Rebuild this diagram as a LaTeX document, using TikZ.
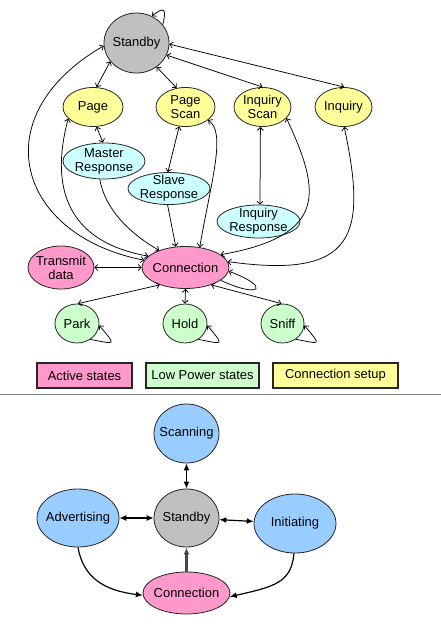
\documentclass[tikz,border=0pt]{standalone}
\usepackage{fontspec}
\setmainfont{Liberation Sans}
\usetikzlibrary{shapes.geometric,arrows.meta}
\definecolor{standbygray}{HTML}{C0C0C0}
\definecolor{setupyellow}{HTML}{FFFF99}
\definecolor{respcyan}{HTML}{CCFFFF}
\definecolor{activepink}{HTML}{FF99CC}
\definecolor{lowgreen}{HTML}{CCFFCC}
\definecolor{leblue}{HTML}{99CCFF}

\begin{document}
\begin{tikzpicture}[x=1bp, y=1bp,
    bstate/.style={ellipse, draw=black!85, line width=0.8bp, inner sep=-6bp, align=center, font=\fontsize{13}{14}\selectfont},
    legendbox/.style={draw=black!85, line width=1.3bp, inner sep=0pt, minimum height=25bp, font=\fontsize{13}{14}\selectfont},
    arr/.style={line width=0.75bp, >={Straight Barb[length=3pt,width=6pt]}},
    learr/.style={line width=1.2bp, >={Latex[length=7bp,width=6bp]}}
  ]
  \useasboundingbox (0,0) rectangle (441,-624);

  % Upper diagram: states
  \node[bstate, fill=standbygray, minimum width=65bp, minimum height=60bp] (sbA) at (136.5,-43) {Standby};
  \node[bstate, fill=setupyellow, minimum width=60bp, minimum height=39bp] (page) at (93,-107) {Page};
  \node[bstate, fill=setupyellow, minimum width=59bp, minimum height=39bp] (pscan) at (185.5,-107) {Page\\Scan};
  \node[bstate, fill=setupyellow, minimum width=57bp, minimum height=39bp] (iscan) at (262.5,-107) {Inquiry\\Scan};
  \node[bstate, fill=setupyellow, minimum width=57bp, minimum height=39bp] (inq) at (343.5,-107) {Inquiry};
  \node[bstate, fill=respcyan, minimum width=82bp, minimum height=36bp] (mresp) at (104,-161) {Master\\Response};
  \node[bstate, fill=respcyan, minimum width=82bp, minimum height=32bp] (sresp) at (169,-188.5) {Slave\\Response};
  \node[bstate, fill=respcyan, minimum width=83bp, minimum height=33bp] (iresp) at (258.5,-221.5) {Inquiry\\Response};
  \node[bstate, fill=activepink, minimum width=87bp, minimum height=42bp] (conA) at (185.5,-267.5) {Connection};
  \node[bstate, fill=activepink, minimum width=66bp, minimum height=43bp] (tx) at (61,-267.5) {Transmit\\data};
  \node[bstate, fill=lowgreen, minimum width=44bp, minimum height=39bp] (park) at (77,-323.5) {Park};
  \node[bstate, fill=lowgreen, minimum width=44bp, minimum height=39bp] (hold) at (185,-323.5) {Hold};
  \node[bstate, fill=lowgreen, minimum width=43bp, minimum height=39bp] (sniff) at (282.5,-323.5) {Sniff};

  % Legend
  \node[legendbox, fill=activepink, minimum width=95bp] (legact) at (84.5,-375.5) {Active states};
  \node[legendbox, fill=lowgreen, minimum width=113bp] (leglow) at (202.5,-375.5) {Low Power states};
  \node[legendbox, fill=setupyellow, minimum width=125bp] (legset) at (335.5,-375.5) {Connection setup};

  % Links from Standby
  \draw[arr,->] (sbA.35) to[out=75,in=40,out distance=16bp,in distance=16bp] (sbA.60);
  \draw[arr,<->] (sbA.215) -- (page.80);
  \draw[arr,<->] (sbA.310) -- (pscan.115);
  \draw[arr,<->] (sbA.338) -- (iscan.90);
  \draw[arr,<->] (sbA.358) -- (inq.88);
  \draw[arr,<->] (sbA.185) to[out=210,in=169,out distance=140bp,in distance=130bp] (conA.170);

  % Setup to responses
  \draw[arr,<->] (page.280) -- (mresp.93);
  \draw[arr,<->] (pscan.252) -- (sresp.94);
  \draw[arr,<->] (iscan.264) -- (iresp.85);

  % Into Connection
  \draw[arr,<->] (page.205) to[out=255,in=170,out distance=80bp,in distance=75bp] (conA.163);
  \draw[arr,->] (mresp.257) to[out=-80,in=150,out distance=30bp,in distance=35bp] (conA.147);
  \draw[arr,->] (sresp.265) -- (conA.115);
  \draw[arr,<->] (pscan.330) to[out=-35,in=80,out distance=22bp,in distance=70bp] (conA.55);
  \draw[arr,<->] (iscan.335) to[out=-65,in=10,out distance=80bp,in distance=110bp] (conA.20);
  \draw[arr,<->] (inq.272) to[out=-78,in=-8,out distance=110bp,in distance=130bp] (conA.8);
  \draw[arr,->] (conA.340) to[out=-25,in=-20,out distance=45bp,in distance=45bp] (conA.355);

  % Around Connection
  \draw[arr,<->] (tx) -- (conA);
  \draw[arr,<->] (conA.214) -- (park.87);
  \draw[arr,<->] (conA.270) -- (hold.90);
  \draw[arr,<->] (conA.326) -- (sniff.93);
  \draw[arr,->] (park.310) to[out=-10,in=-50,out distance=25bp,in distance=28bp] (park.355);
  \draw[arr,->] (hold.310) to[out=-10,in=-50,out distance=25bp,in distance=28bp] (hold.355);
  \draw[arr,->] (sniff.310) to[out=-10,in=-50,out distance=25bp,in distance=28bp] (sniff.355);

  % Separator
  \draw[black!50, line width=1.5bp] (0,-394.5) -- (441,-394.5);

  % Lower diagram
  \node[bstate, fill=leblue, minimum width=65bp, minimum height=59bp] (scan) at (186.5,-433.5) {Scanning};
  \node[bstate, fill=standbygray, minimum width=65bp, minimum height=58bp] (sbB) at (186.5,-518) {Standby};
  \node[bstate, fill=leblue, minimum width=82bp, minimum height=58bp] (adv) at (78,-518) {Advertising};
  \node[bstate, fill=leblue, minimum width=82bp, minimum height=59bp] (init) at (295,-523.5) {Initiating};
  \node[bstate, fill=activepink, minimum width=87bp, minimum height=42bp] (conB) at (186.5,-593) {Connection};

  \draw[learr,<->] (scan) -- (sbB);
  \draw[learr,<->] (adv) -- (sbB);
  \draw[learr,<->] (sbB) -- (init);
  \draw[learr,->, line width=2.2bp, black!72] (conB) -- (sbB);
  \draw[learr,->] (adv.270) to[out=-80,in=173,out distance=30bp,in distance=40bp] (conB.183);
  \draw[learr,->] (init.268) to[out=-95,in=13,out distance=30bp,in distance=45bp] (conB.355);
\end{tikzpicture}
\end{document}
